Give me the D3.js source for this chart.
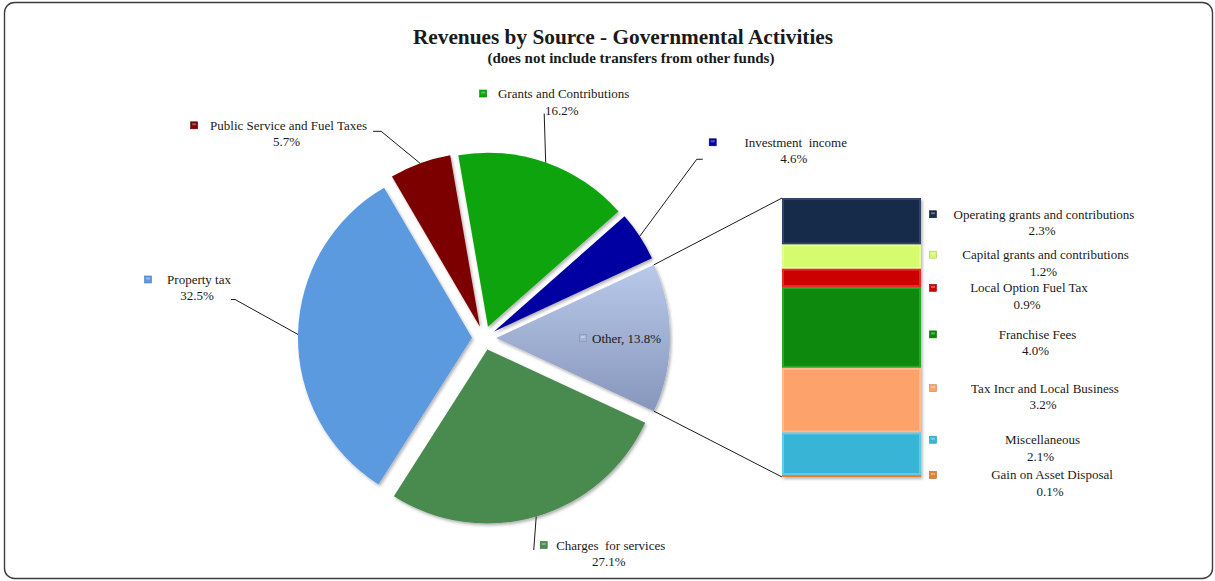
<!DOCTYPE html>
<html>
<head>
<meta charset="utf-8">
<script src="https://cdn.jsdelivr.net/npm/d3@7"></script>
<style>
  html, body { margin: 0; padding: 0; background: #fff; }
  svg text { font-family: "Liberation Serif", "Times New Roman", serif; fill: #1a1a1a; white-space: pre; }
</style>
</head>
<body>
<svg id="chart" width="1215" height="581"></svg>
<script>
// ---- data ----
const pieCategories = ["Grants and Contributions", "Investment  income", "Other", "Charges  for services", "Property tax", "Public Service and Fuel Taxes"];
const pieValues = [16.2, 4.6, 13.8, 27.1, 32.5, 5.7];
const barCategories = ["Operating grants and contributions", "Capital grants and contributions", "Local Option Fuel Tax", "Franchise Fees", "Tax Incr and Local Business", "Miscellaneous", "Gain on Asset Disposal"];
const barValues = [2.3, 1.2, 0.9, 4.0, 3.2, 2.1, 0.1];

// ---- styles ----
const pieColors = ["#09a409", "#0000a2", "#a3b4d8", "#4a8b50", "#5b9ae0", "#7b0000"];
const pieEdge   = ["#4fd24f", "#3a3ad6", "#d6e2f6", "#74b078", "#8fc0f4", "#a83030"];
const barColors = ["#172a48", "#d4fc6c", "#cc0000", "#078907", "#fea26c", "#37b4d6", "#e0822e"];
const barEdge   = ["#44597a", "#effdb8", "#f04848", "#3cbb3c", "#ffcaa6", "#7edcf2", "#f5ae6e"];

const svg = d3.select("#chart");
const defs = svg.append("defs");

// soft drop shadow for slices and bar
const shadow = defs.append("filter").attr("id", "shadow")
  .attr("x", "-10%").attr("y", "-10%").attr("width", "130%").attr("height", "130%");
shadow.append("feDropShadow").attr("dx", 1.5).attr("dy", 2).attr("stdDeviation", 1.6)
  .attr("flood-color", "#000").attr("flood-opacity", 0.3);

// gradient for the "Other" slice
const og = defs.append("linearGradient").attr("id", "otherGrad")
  .attr("x1", 0).attr("y1", 0).attr("x2", 0).attr("y2", 1);
og.append("stop").attr("offset", "0%").attr("stop-color", "#b9c9ea");
og.append("stop").attr("offset", "100%").attr("stop-color", "#8796bb");

// frame
svg.append("rect").attr("x", 4.5).attr("y", 2.5).attr("width", 1208).attr("height", 576)
  .attr("rx", 10).attr("fill", "#fff").attr("stroke", "#3c3c3c").attr("stroke-width", 1.4);

// title
svg.append("text").attr("x", 623).attr("y", 44).attr("text-anchor", "middle")
  .attr("font-size", 21.3).attr("font-weight", "bold")
  .text("Revenues by Source - Governmental Activities");
svg.append("text").attr("x", 631).attr("y", 63).attr("text-anchor", "middle")
  .attr("font-size", 15).attr("font-weight", "bold")
  .text("(does not include transfers from other funds)");

// ---- pie ----
const cx = 484, cy = 338, R = 174, explode = 12;
const total = d3.sum(pieValues);
const otherIdx = pieCategories.indexOf("Other");
const before = d3.sum(pieValues.slice(0, otherIdx)) + pieValues[otherIdx] / 2;
const start = Math.PI / 2 - 2 * Math.PI * before / total;   // "Other" centred at 3 o'clock

const pie = d3.pie().sort(null).startAngle(start).endAngle(start + 2 * Math.PI);
const arcs = pie(pieValues);
const arc = d3.arc().innerRadius(0).outerRadius(R);
const mid = d => (d.startAngle + d.endAngle) / 2;
const polar = (a, r) => [Math.sin(a) * r, -Math.cos(a) * r];

const pieG = svg.append("g").attr("transform", `translate(${cx},${cy})`);
arcs.forEach((d, i) => {
  const [ox, oy] = polar(mid(d), explode);
  const g = pieG.append("g").attr("transform", `translate(${ox},${oy})`);
  const clipId = "clipSlice" + i;
  defs.append("clipPath").attr("id", clipId).append("path").attr("d", arc(d))
    .attr("transform", `translate(${cx + ox},${cy + oy})`);
  g.append("path").attr("d", arc(d))
    .attr("fill", i === otherIdx ? "url(#otherGrad)" : pieColors[i])
    .attr("filter", "url(#shadow)");
  // bevelled rim
  svg.append("path").attr("d", arc(d))
    .attr("transform", `translate(${cx + ox},${cy + oy})`)
    .attr("clip-path", `url(#${clipId})`)
    .attr("fill", "none").attr("stroke", pieEdge[i]).attr("stroke-width", 5).attr("stroke-opacity", 0.55)
    .attr("stroke-linejoin", "round");
});

// ---- bar of "Other" ----
const barX0 = 782, barX1 = 921;
const y = d3.scaleLinear().domain([0, d3.sum(barValues)]).range([198, 477]);
const cum = d3.cumsum(barValues);
const segs = barValues.map((v, i) => ({ v, y0: cum[i] - v, y1: cum[i], i }));

// connector lines from the slice corners to the bar
const od = arcs[otherIdx];
const [oox, ooy] = polar(mid(od), explode);
const cTop = polar(od.startAngle, R), cBot = polar(od.endAngle, R);
const connect = svg.append("g").attr("stroke", "#1a1a1a").attr("stroke-width", 1);
connect.append("line").attr("x1", cx + oox + cTop[0]).attr("y1", cy + ooy + cTop[1])
  .attr("x2", barX0).attr("y2", y(0));
connect.append("line").attr("x1", cx + oox + cBot[0]).attr("y1", cy + ooy + cBot[1])
  .attr("x2", barX0).attr("y2", y(d3.sum(barValues)));

const barG = svg.append("g").attr("filter", "url(#shadow)");
segs.forEach(s => {
  barG.append("rect").attr("x", barX0).attr("width", barX1 - barX0)
    .attr("y", y(s.y0)).attr("height", Math.max(1.5, y(s.y1) - y(s.y0)))
    .attr("fill", barColors[s.i]);
});
segs.forEach(s => {
  const h = y(s.y1) - y(s.y0);
  if (h < 4) return;
  const clipId = "clipBar" + s.i;
  defs.append("clipPath").attr("id", clipId).append("rect")
    .attr("x", barX0).attr("y", y(s.y0)).attr("width", barX1 - barX0).attr("height", h);
  svg.append("rect").attr("x", barX0).attr("y", y(s.y0)).attr("width", barX1 - barX0).attr("height", h)
    .attr("clip-path", `url(#${clipId})`).attr("fill", "none")
    .attr("stroke", barEdge[s.i]).attr("stroke-width", 4).attr("stroke-opacity", 0.6);
});

// ---- labels ----
function marker(x, yc, color) {
  svg.append("rect").attr("x", x - 3.5).attr("y", yc - 3.5).attr("width", 7).attr("height", 7)
    .attr("fill", color).attr("stroke", d3.color(color).darker(0.6)).attr("stroke-width", 0.6);
  svg.append("rect").attr("x", x - 2).attr("y", yc - 2).attr("width", 4).attr("height", 2)
    .attr("fill", "#fff").attr("opacity", 0.35);
}
function twoLine(xc, yc, name, pct) {
  svg.append("text").attr("x", xc).attr("y", yc + 4.5).attr("text-anchor", "middle")
    .attr("font-size", 13).text(name);
  svg.append("text").attr("x", xc - 2).attr("y", yc + 21).attr("text-anchor", "middle")
    .attr("font-size", 13).text(pct);
}
const fmt = v => d3.format(".1f")(v) + "%";

// label placement relative to each slice's outer mid point
const pieLabelLayout = [
  { dx: 18,    dy: -69, mx: -80.5, leader: [[-1.5, -49]] },
  { dx: 156,   dy: -94, mx: -83,   leader: [[57, -77], [63, -77]] },
  null,
  { dx: 74.5,  dy: 28.5, mx: -67,  leader: [[-2.5, 33.5]] },
  { dx: -99,   dy: -55, mx: -51,   leader: [[-63, -35], [-67, -35]] },
  { dx: -131.5, dy: -38, mx: -94.5, leader: [[-39, -32], [-47, -32]] }
];
arcs.forEach((d, i) => {
  const L = pieLabelLayout[i];
  const [px, py] = polar(mid(d), R + explode);
  const ax = cx + px, ay = cy + py;
  if (!L) {
    // label inside the slice
    const c = arc.centroid(d);
    const [ox, oy] = polar(mid(d), explode);
    const mx = cx + ox + c[0], my = cy + oy + c[1];
    marker(mx, my, pieColors[i]);
    svg.append("text").attr("x", mx + 9).attr("y", my + 4.5).attr("font-size", 13)
      .text(pieCategories[i] + ", " + fmt(pieValues[i]));
    return;
  }
  const pts = [[ax, ay]].concat(L.leader.map(p => [ax + p[0], ay + p[1]]));
  svg.append("path").attr("d", d3.line()(pts)).attr("fill", "none")
    .attr("stroke", "#1a1a1a").attr("stroke-width", 1);
  const xc = ax + L.dx, yc = ay + L.dy;
  marker(xc + L.mx, yc, pieColors[i]);
  twoLine(xc, yc, pieCategories[i], fmt(pieValues[i]));
});

// bar labels: offsets from each segment's middle
const barLabelDy = [-7, -2, 10, 7, -12, -14, -1];
const barLabelDx = [0, 1.5, -15, -6.5, 1, -1.5, 8];
segs.forEach(s => {
  const yc = y((s.y0 + s.y1) / 2) + barLabelDy[s.i];
  marker(barX1 + 12, yc, barColors[s.i]);
  twoLine(barX1 + 123 + barLabelDx[s.i], yc, barCategories[s.i], fmt(s.v));
});
</script>
</body>
</html>
